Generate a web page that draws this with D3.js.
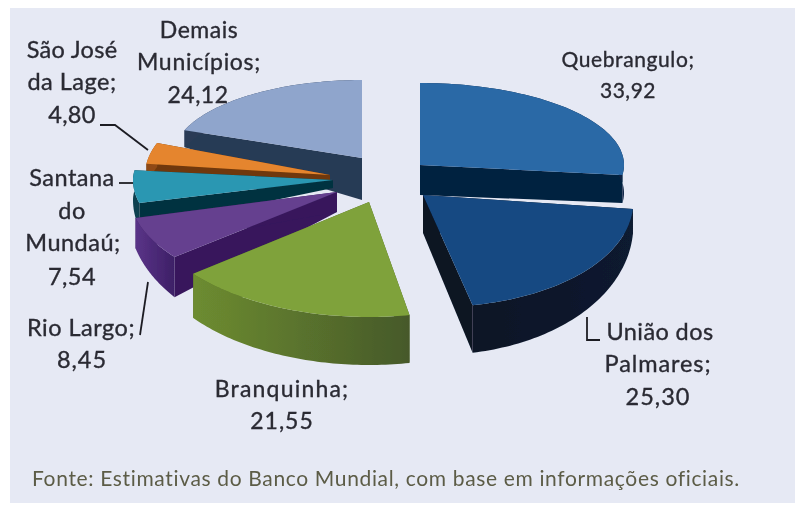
<!DOCTYPE html>
<html><head><meta charset="utf-8">
<script src="https://cdn.jsdelivr.net/npm/d3@7/dist/d3.min.js"></script>
<style>html,body{margin:0;padding:0;background:#fff}svg{display:block}</style>
</head><body><svg id="c" width="795" height="506"></svg>
<script>
const categories = ["Quebrangulo","União dos Palmares","Branquinha","Rio Largo","Santana do Mundaú","São José da Lage","Demais Municípios"];
const values = [33.92,25.30,21.55,8.45,7.54,4.80,24.12];
const valueLabels = ["33,92","25,30","21,55","8,45","7,54","4,80","24,12"];
const topColors = ["#2b69a6","#174a82","#7fa23a","#65408f","#2b97b2","#e5852e","#8fa5cc"];
const rimColors = [["#0a2445","#0a2445"],["#0a1526","#0c1a30"],["#6d8c30","#46592a"],["#5a3488","#3d1f66"],["#0d4050","#0d4050"],["#8f4a12","#8f4a12"],["#2a3b57","#2a3b57"]];
const cutColors = ["#06203f","#081324","#4d6426","#37195c","#06323f","#6f3808","#283a55"];
// slice placement in the exploded view: centre, radius, squash, wall height
const layout = [
 {cx:420,cy:165,r:204,ryB:82,ryF:80,t0:28,t1:28,tA:30,sk:0},
 {cx:423,cy:195,r:210,ryB:110,ryF:112,t0:22,t1:48,tA:38,sk:12},
 {cx:369,cy:202,r:225,ryB:100,ryF:115,t0:38,t1:48,tA:40,sk:0},
 {cx:337,cy:192,r:208,ryB:90,ryF:104,t0:24,t1:50,tA:20,sk:0},
 {cx:333,cy:180,r:200,ryB:78,ryF:92,t0:20,t1:40,tA:8,sk:0},
 {cx:330,cy:175,r:185,ryB:90,ryF:90,t0:24,t1:30,tA:6,sk:0},
 {cx:362,cy:158,r:190,ryB:78,ryF:78,t0:17,t1:30,tA:42,sk:0}
];
const drawOrder = [6,5,4,3,2,0,1];
// label text lines: [text, centre x, baseline y, font size, letter spacing]
const labelLines = [
 [["Quebrangulo;",628,67,21,0.6],[valueLabels[0],628,98,21,0.5]],
 [["União dos",660,340,23.5,0.4],["Palmares;",658,372,23.5,0.9],[valueLabels[1],658,405,23.5,1]],
 [["Branquinha;",282,397,23,1.2],[valueLabels[2],282,429,23,1]],
 [["Rio Largo;",81,336,23.5,0.5],[valueLabels[3],82,368,23.5,1]],
 [["Santana",72,186,23.5,0.5],["do",72,219,23.5,0.5],["Mundaú;",73,251,23.5,0.5],[valueLabels[4],72,285,23.5,0.5]],
 [["São José",72,58,23.5,0.3],["da Lage;",72,90,23.5,0.5],[valueLabels[5],72,123,23.5,0.3]],
 [["Demais",199,38,23,0.5],["Municípios;",199,70,23,0.7],[valueLabels[6],198,103,23,0.5]]
];
const leaders = [
 [[100,125],[115,125],[148,150]],
 [[119,183],[133,183]],
 [[140,335],[148,282]],
 [[587,317],[587,340],[600,340]]
];
const source = "Fonte: Estimativas do Banco Mundial, com base em informações oficiais.";

const svg = d3.select("#c");
svg.append("rect").attr("width",795).attr("height",506).attr("fill","#fff");
svg.append("rect").attr("x",10).attr("y",8).attr("width",785).attr("height",495).attr("fill","#e6e9f4");
const defs = svg.append("defs");
defs.append("filter").attr("id","soft").append("feGaussianBlur").attr("stdDeviation",0.7);
defs.append("filter").attr("id","softT").append("feGaussianBlur").attr("stdDeviation",0.55);

const arcs = d3.pie().sort(null).value(d=>d)(values);
const line = d3.line();
const g = svg.append("g").attr("filter","url(#soft)");

function pt(L,a){
  const c=Math.cos(a), f=-c;
  const ry = c>0?L.ryB:L.ryF;
  return [L.cx+L.r*Math.sin(a)+L.sk*Math.max(f,0), L.cy-ry*c];
}
const wall=(L,a)=>L.t0+(L.t1-L.t0)*Math.max(-Math.cos(a),0);

drawOrder.forEach(i=>{
  const L=layout[i], A=arcs[i];
  const angles=d3.range(0,61).map(k=>A.startAngle+(A.endAngle-A.startAngle)*k/60);
  const rim=angles.map(a=>pt(L,a));
  const low=angles.map((a,k)=>[rim[k][0],rim[k][1]+wall(L,a)]);
  const apex=[L.cx,L.cy], apexLow=[L.cx,L.cy+L.tA];
  const gid="rim"+i;
  const gr=defs.append("linearGradient").attr("id",gid);
  gr.append("stop").attr("offset","0%").attr("stop-color",rimColors[i][0]);
  gr.append("stop").attr("offset","100%").attr("stop-color",rimColors[i][1]);
  [0,60].forEach(k=>{
    g.append("path").attr("d",line([apex,rim[k],low[k],apexLow])+"Z").attr("fill",cutColors[i]);
  });
  g.append("path").attr("d",line(rim.concat(low.slice().reverse()))+"Z").attr("fill",`url(#${gid})`);
  g.append("path").attr("d",line([apex].concat(rim))+"Z").attr("fill",topColors[i]);
});

const tg = svg.append("g").attr("filter","url(#softT)");
leaders.forEach(p=>{
  tg.append("path").attr("d",line(p)).attr("fill","none").attr("stroke","#1c1c24").attr("stroke-width",1.8);
});
labelLines.flat().forEach(d=>{
  tg.append("text").attr("x",d[1]).attr("y",d[2]).attr("text-anchor","middle")
    .attr("font-family","Lato, 'Open Sans', sans-serif").attr("font-size",d[3])
    .attr("letter-spacing",d[4]).attr("stroke","#2a2a33").attr("stroke-width",0.35)
    .attr("fill","#2a2a33").text(d[0]);
});
tg.append("text").attr("x",32).attr("y",486).attr("font-family","Lato, 'Open Sans', sans-serif")
  .attr("font-size",21).attr("letter-spacing",0.65).attr("fill","#5c5c46").text(source);
</script></body></html>
